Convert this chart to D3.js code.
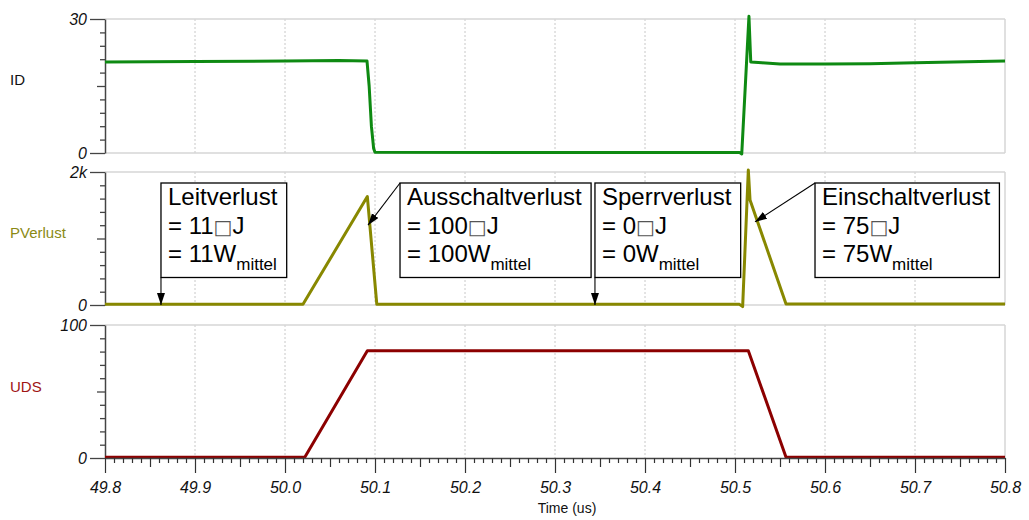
<!DOCTYPE html>
<html>
<head>
<meta charset="utf-8">
<script src="https://cdn.jsdelivr.net/npm/d3@7"></script>
<style>
  body { margin: 0; background: #fff; }
  text { font-family: Arial, "Liberation Sans", sans-serif; }
</style>
</head>
<body>
<svg id="chart" width="1029" height="520"></svg>
<script>
// time axis (us)
var timeTicks = [49.8, 49.9, 50.0, 50.1, 50.2, 50.3, 50.4, 50.5, 50.6, 50.7, 50.8];

// ID (A)
var idTime = [49.8, 49.9, 50.0, 50.06, 50.0911, 50.0935, 50.096, 50.0985, 50.1, 50.3, 50.505, 50.5075, 50.5155, 50.5175, 50.53, 50.55, 50.6, 50.65, 50.7, 50.8];
var idValues = [20.4, 20.5, 20.6, 20.7, 20.6, 15, 6, 1, 0.15, 0.1, 0.1, -0.2, 30.6, 20.4, 20.2, 19.9, 19.9, 20.0, 20.2, 20.6];

// PVerlust (W)
var pTime = [49.8, 50.02, 50.0915, 50.102, 50.3, 50.505, 50.5085, 50.5148, 50.5167, 50.5567, 50.8];
var pValues = [10, 10, 1630, 10, 10, 10, -25, 2030, 1580, 15, 15];

// UDS (V)
var uTime = [49.8, 50.022, 50.0915, 50.5148, 50.5567, 50.8];
var uValues = [0.6, 0.6, 80.7, 80.7, 0.6, 0.6];

// annotations
var annoTitles = ["Leitverlust", "Ausschaltverlust", "Sperrverlust", "Einschaltverlust"];
var annoEnergy = ["= 11", "= 100", "= 0", "= 75"];
var annoPower = ["= 11W", "= 100W", "= 0W", "= 75W"];
var annoBoxTime = [49.8622, 50.1278, 50.3444, 50.5889];
var annoTipTime = [49.8622, 50.0922, 50.3444, 50.5222];
var annoTipValue = [0, 1200, 0, 1250];

var svg = d3.select("#chart");
var x = d3.scaleLinear().domain([49.8, 50.8]).range([105, 1005]);

var panels = [
    { name: "ID", labelColor: "#111", color: "#0e8a12", t: idTime, v: idValues, max: 30, maxLabel: "30", y0: 153, y1: 19, labelY: 80 },
    { name: "PVerlust", labelColor: "#8a8a14", color: "#888800", t: pTime, v: pValues, max: 2000, maxLabel: "2k", y0: 305, y1: 172, labelY: 233 },
    { name: "UDS", labelColor: "#a01414", color: "#8c0000", t: uTime, v: uValues, max: 100, maxLabel: "100", y0: 458, y1: 325, labelY: 387 }
];

var defs = svg.append("defs");
defs.append("marker")
    .attr("id", "arrow")
    .attr("markerUnits", "userSpaceOnUse")
    .attr("markerWidth", 14).attr("markerHeight", 10)
    .attr("refX", 12).attr("refY", 4)
    .attr("orient", "auto")
    .append("path")
    .attr("d", "M0,0L12,4L0,8Z")
    .attr("fill", "#000");

panels.forEach(function (p, k) {
    var y = d3.scaleLinear().domain([0, p.max]).range([p.y0, p.y1]);
    p.y = y;
    var g = svg.append("g");

    // grid
    g.selectAll("line.grid")
        .data(timeTicks.slice(1, -1))
        .enter().append("line")
        .attr("x1", function (d) { return x(d); })
        .attr("x2", function (d) { return x(d); })
        .attr("y1", p.y1).attr("y2", p.y0)
        .style("stroke", "#c8c8c8")
        .style("stroke-width", 1)
        .style("stroke-dasharray", "2,2");
    // frame
    var frame = [[x(49.8), p.y1, x(50.8), p.y1], [x(50.8), p.y1, x(50.8), p.y0]];
    if (k < 2) frame.push([x(49.8), p.y0, x(50.8), p.y0]);
    g.selectAll("line.frame")
        .data(frame)
        .enter().append("line")
        .attr("x1", function (d) { return d[0]; })
        .attr("y1", function (d) { return d[1]; })
        .attr("x2", function (d) { return d[2]; })
        .attr("y2", function (d) { return d[3]; })
        .style("stroke", "#d6d6d6")
        .style("stroke-width", 1.5);

    // left axis
    var ticks = d3.range(0, 11).map(function (i) { return i * p.max / 10; });
    var ax = g.append("g")
        .attr("transform", "translate(105,0)")
        .call(d3.axisLeft(y).tickValues(ticks).tickSizeOuter(0)
            .tickFormat(function (d, i) { return i === 0 ? "0" : (i === 10 ? p.maxLabel : ""); }));
    ax.select(".domain").style("stroke", "#444").style("stroke-width", 1.5);
    ax.selectAll(".tick line")
        .attr("x2", function (d, i) { return i === 0 || i === 10 ? -15 : (i === 5 ? -8 : -5); })
        .style("stroke", "#444").style("stroke-width", 1.3);
    ax.selectAll(".tick text")
        .attr("x", -18)
        .style("font-size", "16px")
        .style("font-style", "italic")
        .style("fill", "#111")
        .style("font-family", "Arial, 'Liberation Sans', sans-serif");

    // signal name
    g.append("text")
        .attr("x", 10).attr("y", p.labelY)
        .attr("dy", "0.36em")
        .style("font-size", "15px")
        .style("fill", p.labelColor)
        .text(p.name);

    // trace
    var line = d3.line()
        .x(function (d) { return x(d[0]); })
        .y(function (d) { return y(d[1]); });
    g.append("path")
        .datum(d3.zip(p.t, p.v))
        .attr("d", line)
        .style("fill", "none")
        .style("stroke", p.color)
        .style("stroke-width", 3)
        .style("stroke-linejoin", "round");
});

// x axis
var xTicks = d3.range(0, 101).map(function (i) { return 49.8 + i * 0.01; });
var xAxis = svg.append("g")
    .attr("transform", "translate(0,458)")
    .call(d3.axisBottom(x).tickValues(xTicks).tickSizeOuter(0)
        .tickFormat(function (d, i) { return i % 10 === 0 ? d3.format(".1f")(d) : ""; }));
xAxis.select(".domain").style("stroke", "#444").style("stroke-width", 1.5);
xAxis.selectAll(".tick line")
    .attr("y2", function (d, i) { return i % 10 === 0 ? 15 : (i % 5 === 0 ? 9 : 5); })
    .style("stroke", "#333").style("stroke-width", 1.2);
xAxis.selectAll(".tick text")
    .attr("y", 24)
    .style("font-size", "16px")
    .style("font-style", "italic")
    .style("fill", "#111")
    .style("font-family", "Arial, 'Liberation Sans', sans-serif");

svg.append("text")
    .attr("x", 567).attr("y", 513)
    .attr("text-anchor", "middle")
    .style("font-size", "14px")
    .style("fill", "#111")
    .text("Time (us)");

// annotations
var py = panels[1].y;
var boxTop = 183, boxBottom = 277.5;
annoTitles.forEach(function (title, i) {
    var left = x(annoBoxTime[i]);
    var g = svg.append("g");
    var rect = g.append("rect")
        .attr("x", left).attr("y", boxTop)
        .attr("height", boxBottom - boxTop)
        .style("fill", "#fff")
        .style("stroke", "#000")
        .style("stroke-width", 1.3);
    var t = g.append("g").style("font-size", "24px").style("fill", "#000");
    t.append("text").attr("x", left + 7).attr("y", 205).text(title);
    var e = t.append("text").attr("x", left + 7).attr("y", 233.5);
    e.append("tspan").text(annoEnergy[i]);
    e.append("tspan").style("font-size", "20px").style("fill", "#555")
        .style("font-family", "'DejaVu Sans', sans-serif").text("\u25A1");
    e.append("tspan").text("J");
    var w = t.append("text").attr("x", left + 7).attr("y", 261.5);
    w.append("tspan").text(annoPower[i]);
    w.append("tspan").attr("dy", 8.5).style("font-size", "17px").text("mittel");
    var bw = t.node().getBBox().width;
    rect.attr("width", bw + 16);

    var tipX = x(annoTipTime[i]), tipY = py(annoTipValue[i]);
    var fromY = annoTipValue[i] === 0 ? boxBottom : boxTop;
    svg.append("line")
        .attr("x1", left).attr("y1", fromY)
        .attr("x2", tipX).attr("y2", tipY)
        .style("stroke", "#000")
        .style("stroke-width", 1.1)
        .attr("marker-end", "url(#arrow)");
});
</script>
</body>
</html>
